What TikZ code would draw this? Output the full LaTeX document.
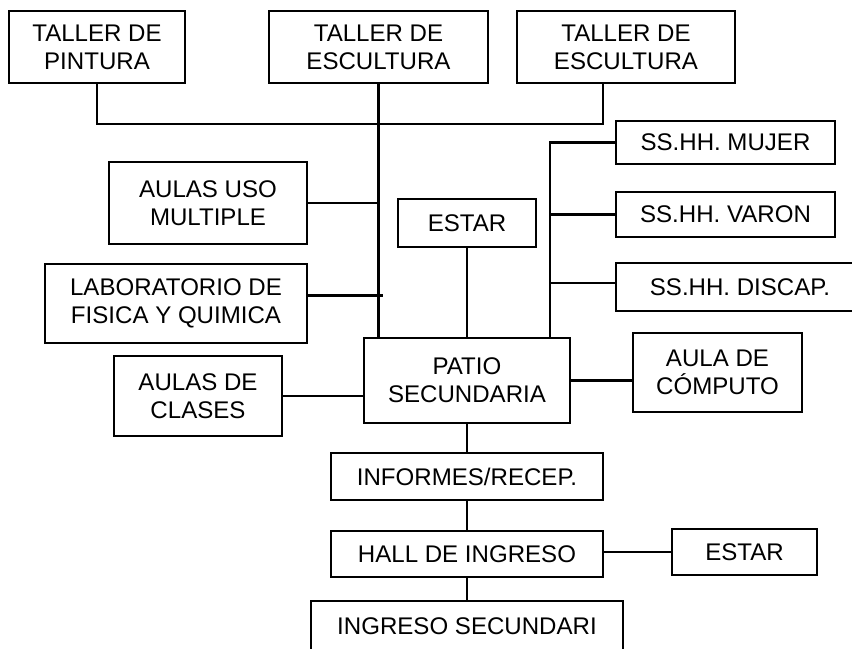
\documentclass[tikz,border=0pt]{standalone}
\usepackage{fontspec}
\setmainfont{Liberation Sans}
\usepackage{tikz}
\usetikzlibrary{calc}

\begin{document}
\begin{tikzpicture}[x=0.2mm,y=-0.2mm,
  font=\fontsize{13.7}{16}\selectfont,
  blk/.style={draw, line width=1.3pt, align=center, inner sep=0pt},
  lnk/.style={line width=1.3pt}]
\clip (0,0) rectangle (852,649);
\fill[white] (0,0) rectangle (852,649);
% top row: talleres
\node[blk, minimum width=176*0.2mm, minimum height=72*0.2mm] (pintura) at (97,47) {TALLER DE\\PINTURA};
\node[blk, minimum width=219*0.2mm, minimum height=72*0.2mm] (escultA) at (378.5,47) {TALLER DE\\ESCULTURA};
\node[blk, minimum width=218*0.2mm, minimum height=72*0.2mm] (escultB) at (626,47) {TALLER DE\\ESCULTURA};
% left column
\node[blk, minimum width=198*0.2mm, minimum height=82*0.2mm] (aulasuso) at (208,203) {AULAS USO\\MULTIPLE};
\node[blk, minimum width=262*0.2mm, minimum height=79*0.2mm] (lab) at (176,303.5) {LABORATORIO DE\\FISICA Y QUIMICA};
\node[blk, minimum width=168*0.2mm, minimum height=80*0.2mm] (clases) at (198,396) {AULAS DE\\CLASES};
% center
\node[blk, minimum width=138*0.2mm, minimum height=48*0.2mm] (estarA) at (467,223) {ESTAR};
\node[blk, minimum width=206*0.2mm, minimum height=85*0.2mm] (patio) at (467,380.5) {PATIO\\SECUNDARIA};
% right column: servicios
\node[blk, minimum width=219*0.2mm, minimum height=43*0.2mm] (mujer) at (725.5,142.5) {SS.HH. MUJER};
\node[blk, minimum width=219*0.2mm, minimum height=45*0.2mm] (varon) at (725.5,214.5) {SS.HH. VARON};
\node[blk, minimum width=248*0.2mm, minimum height=48*0.2mm] (discap) at (740,287) {SS.HH. DISCAP.};
\node[blk, minimum width=169*0.2mm, minimum height=79*0.2mm] (computo) at (717.5,372.5) {AULA DE\\CÓMPUTO};
% ingreso
\node[blk, minimum width=272*0.2mm, minimum height=47*0.2mm] (informes) at (467,476.5) {INFORMES/RECEP.};
\node[blk, minimum width=272*0.2mm, minimum height=46*0.2mm] (hall) at (467,554) {HALL DE INGRESO};
\node[blk, minimum width=145*0.2mm, minimum height=46*0.2mm] (estarB) at (744.5,552) {ESTAR};
\node[blk, minimum width=312*0.2mm, minimum height=50*0.2mm] (ingreso) at (467,626) {INGRESO SECUNDARI};
% connectors
\coordinate (busR) at ($(escultB.south)+(-23,0)$);
\coordinate (ssTop) at ($(patio.north east)+(-21,0)$);
\coordinate (labR) at ($(lab.east)+(0,-8)$);
\coordinate (discapL) at ($(discap.west)+(0,-4)$);
\draw[lnk] (pintura.south) -- ++(0,40) -| (busR);
\draw[lnk] (escultA.south) -- (escultA.south |- patio.north);
\draw[lnk] (aulasuso.east) -- (aulasuso.east -| escultA.south);
\draw[lnk] (labR) -- ++(75,0);
\draw[lnk] (clases.east) -- (clases.east -| patio.west);
\draw[lnk] (estarA.south) -- (estarA.south |- patio.north);
\draw[lnk] (mujer.west) -| (ssTop);
\draw[lnk] (varon.west) -- (varon.west -| ssTop);
\draw[lnk] (discapL) -- (discapL -| ssTop);
\draw[lnk] (patio.east) -- (patio.east -| computo.west);
\draw[lnk] (patio.south) -- (informes.north);
\draw[lnk] (informes.south) -- (hall.north);
\draw[lnk] (estarB.west) -- (estarB.west -| hall.east);
\draw[lnk] (hall.south) -- (ingreso.north);
\end{tikzpicture}
\end{document}
